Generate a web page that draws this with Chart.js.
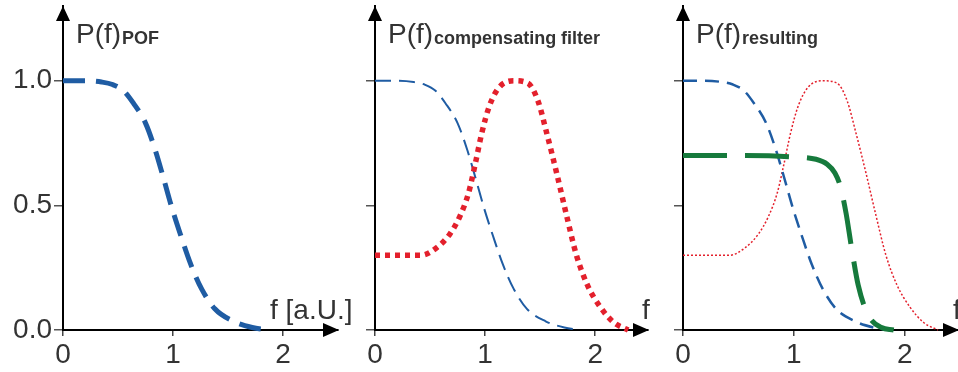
<!DOCTYPE html>
<html>
<head>
<meta charset="utf-8">
<script src="https://cdn.jsdelivr.net/npm/chart.js@4.4.1/dist/chart.umd.min.js"></script>
<style>
  html, body { margin: 0; padding: 0; background: #fff; }
  #wrap { position: relative; width: 958px; height: 372px; }
  #wrap canvas { position: absolute; left: 0; top: 0; }
</style>
</head>
<body>
<div id="wrap">
  <canvas id="pofChart" width="958" height="372"></canvas>
  <canvas id="compChart" width="958" height="372"></canvas>
  <canvas id="resultChart" width="958" height="372"></canvas>
</div>
<script>
// frequency f [a.U.] and P(f)
const fBlue = [0, 0.2, 0.35, 0.45, 0.55, 0.64, 0.75, 0.84, 0.91, 0.99, 1.07, 1.16, 1.26, 1.38, 1.55, 1.72, 1.86];
const pPOF = [1.0, 1.0, 0.995, 0.985, 0.96, 0.91, 0.83, 0.72, 0.615, 0.49, 0.38, 0.265, 0.165, 0.085, 0.035, 0.01, 0];

const fRed = [0, 0.2, 0.42, 0.56, 0.68, 0.77, 0.85, 0.91, 0.97, 1.04, 1.13, 1.26, 1.39, 1.48, 1.56, 1.65, 1.74, 1.83, 1.93, 2.05, 2.17, 2.3];
const pComp = [0.3, 0.3, 0.3, 0.33, 0.385, 0.455, 0.55, 0.665, 0.79, 0.9, 0.975, 1.0, 0.99, 0.92, 0.79, 0.63, 0.46, 0.3, 0.18, 0.09, 0.03, 0];

const fGreen = [0, 0.5, 0.97, 1.2, 1.3, 1.37, 1.42, 1.47, 1.52, 1.58, 1.67, 1.79, 1.9];
const pResult = [0.7, 0.7, 0.695, 0.685, 0.665, 0.63, 0.575, 0.47, 0.33, 0.18, 0.06, 0.01, 0];

const xTickValues = [0, 1, 2];
const yTickValues = [0, 0.5, 1.0];

const FONT = "'Liberation Sans', Arial, sans-serif";
const BLUE = "#1f5ca3";
const RED = "#e3202c";
const GREEN = "#167a3c";
const TEXT = "#333";

const toPoints = (xs, ys) => xs.map((x, i) => ({ x: x, y: ys[i] }));

// arrows on the axes plus the P(f) title and f label
function decorPlugin(sub, xLabel, xLabelX) {
  return {
    id: "decor",
    afterDraw(chart) {
      const ctx = chart.ctx;
      const a = chart.chartArea;
      ctx.save();
      ctx.fillStyle = "#000";
      ctx.beginPath();
      ctx.moveTo(a.right + 1, a.bottom);
      ctx.lineTo(a.right - 15, a.bottom - 7);
      ctx.lineTo(a.right - 15, a.bottom + 7);
      ctx.closePath();
      ctx.fill();
      ctx.beginPath();
      ctx.moveTo(a.left, a.top);
      ctx.lineTo(a.left - 7, a.top + 15);
      ctx.lineTo(a.left + 7, a.top + 15);
      ctx.closePath();
      ctx.fill();

      ctx.fillStyle = TEXT;
      ctx.textBaseline = "alphabetic";
      ctx.textAlign = "left";
      ctx.font = "28px " + FONT;
      ctx.fillText("P(f)", a.left + 13, 43);
      const w = ctx.measureText("P(f)").width;
      ctx.font = "bold 18px " + FONT;
      ctx.fillText(sub, a.left + 13 + w + 1, 44);
      ctx.font = "28px " + FONT;
      ctx.fillText(xLabel, xLabelX, 319);
      ctx.restore();
    }
  };
}

function makePanel(canvasId, left, right, xMax, showY, datasets, sub, xLabel, xLabelX) {
  const ctx = document.getElementById(canvasId).getContext("2d");
  return new Chart(ctx, {
    type: "line",
    data: { datasets: datasets },
    options: {
      responsive: false,
      animation: false,
      events: [],
      layout: { padding: { left: 0, right: 958 - right, top: 6, bottom: 0 } },
      plugins: { legend: { display: false }, tooltip: { enabled: false } },
      elements: { point: { radius: 0 } },
      scales: {
        x: {
          type: "linear",
          min: 0,
          max: xMax,
          afterBuildTicks: (s) => { s.ticks = xTickValues.map(v => ({ value: v })); },
          afterFit: (s) => { s.height = 42; s.paddingLeft = 0; s.paddingRight = 0; },
          grid: { drawOnChartArea: false, drawTicks: true, tickLength: 6, color: "#444", lineWidth: 1.5 },
          border: { display: true, color: "#000", width: 2 },
          ticks: { font: { family: FONT, size: 28 }, color: TEXT, padding: 2, maxRotation: 0 }
        },
        y: {
          type: "linear",
          min: 0,
          max: 1.3,
          afterBuildTicks: (s) => { s.ticks = yTickValues.map(v => ({ value: v })); },
          afterFit: (s) => { s.width = left; s.paddingTop = 0; s.paddingBottom = 0; },
          grid: { drawOnChartArea: false, drawTicks: true, tickLength: 9, color: "#555", lineWidth: 1.5 },
          border: { display: true, color: "#000", width: 2 },
          ticks: {
            display: showY,
            font: { family: FONT, size: 28 },
            color: TEXT,
            padding: 2,
            callback: (v) => v.toFixed(1)
          }
        }
      }
    },
    plugins: [decorPlugin(sub, xLabel, xLabelX)]
  });
}

const lineBase = { fill: false, cubicInterpolationMode: "monotone", pointRadius: 0, clip: false, borderCapStyle: "butt" };

makePanel("pofChart", 63, 338, 2.5, true, [
  Object.assign({ label: "POF", data: toPoints(fBlue, pPOF), borderColor: BLUE, borderWidth: 5, borderDash: [22, 11] }, lineBase)
], "POF", "f [a.U.]", 270);

makePanel("compChart", 375, 648, 2.48, false, [
  Object.assign({ label: "compensating filter", data: toPoints(fRed, pComp), borderColor: RED, borderWidth: 5.5, borderDash: [5, 5] }, lineBase),
  Object.assign({ label: "POF", data: toPoints(fBlue, pPOF), borderColor: BLUE, borderWidth: 2, borderDash: [16, 8] }, lineBase)
], "compensating filter", "f", 642);

makePanel("resultChart", 683, 958, 2.48, false, [
  Object.assign({ label: "resulting", data: toPoints(fGreen, pResult), borderColor: GREEN, borderWidth: 5, borderDash: [44, 18] }, lineBase),
  Object.assign({ label: "POF", data: toPoints(fBlue, pPOF), borderColor: BLUE, borderWidth: 2.5, borderDash: [14, 8] }, lineBase),
  Object.assign({ label: "compensating filter", data: toPoints(fRed, pComp), borderColor: RED, borderWidth: 1.5, borderDash: [2, 2] }, lineBase)
], "resulting", "f", 953);
</script>
</body>
</html>
